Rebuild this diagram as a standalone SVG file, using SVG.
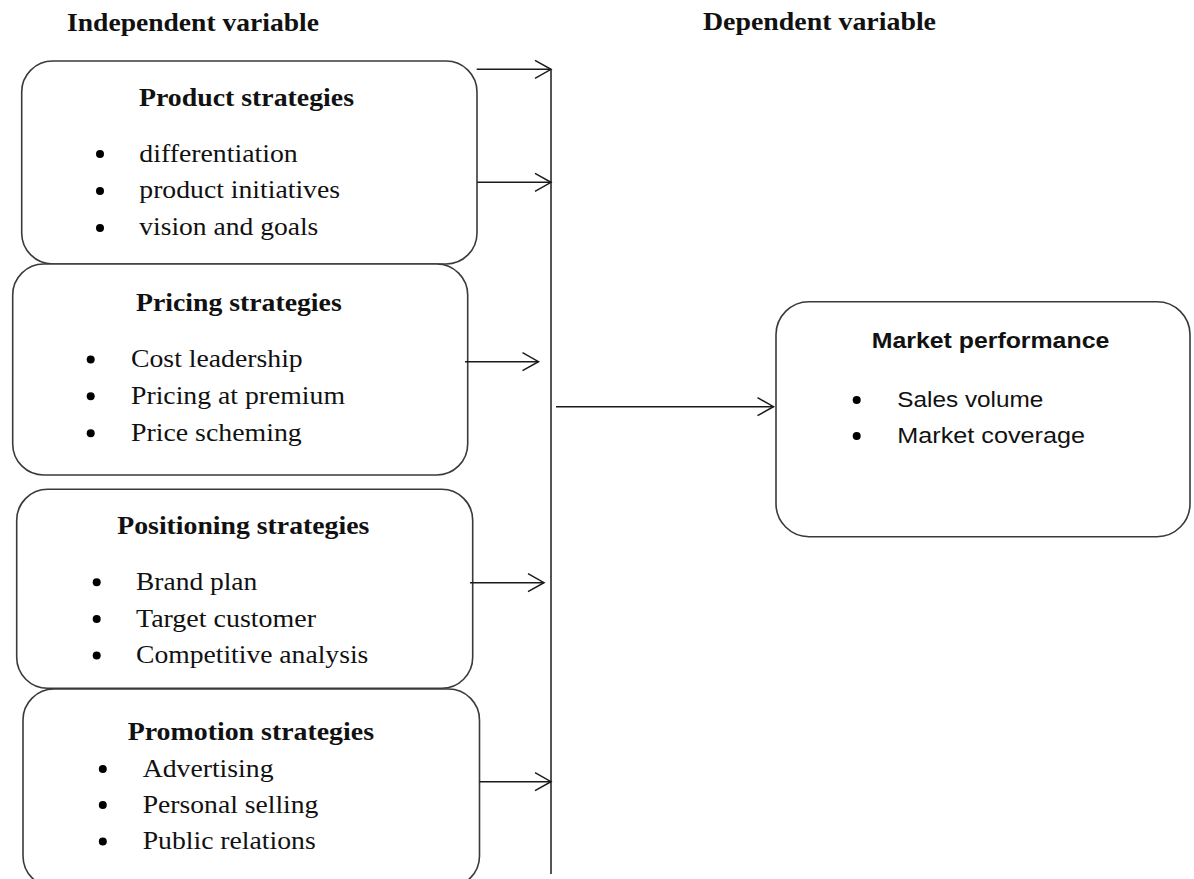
<svg xmlns="http://www.w3.org/2000/svg" width="1194" height="879" viewBox="0 0 1194 879">
<style>
.box{fill:#fff;stroke:#3a3a3a;stroke-width:1.6}
.hd{font-family:"Liberation Serif","Times New Roman",serif;font-weight:bold;font-size:25px;fill:#111}
.t{font-family:"Liberation Serif","Times New Roman",serif;font-size:25px;fill:#111}
.sh{font-family:"Liberation Sans",Arial,sans-serif;font-weight:bold;font-size:22px;fill:#111}
.st{font-family:"Liberation Sans",Arial,sans-serif;font-size:22px;fill:#111}
.dot{fill:#000}
.con{stroke:#1a1a1a;stroke-width:1.5;fill:none}
.bus{stroke:#555;stroke-width:2;fill:none}
</style>
<defs>
<marker id="arr" markerUnits="userSpaceOnUse" markerWidth="20" markerHeight="22" refX="17" refY="10" orient="auto" viewBox="0 0 20 22">
<path d="M1 1 L17 10 L1 19" fill="none" stroke="#1a1a1a" stroke-width="1.5"/>
</marker>
</defs>
<rect width="1194" height="879" fill="#fff"/>
<g id="headers">
<text class="hd" x="67" y="31" textLength="252" lengthAdjust="spacingAndGlyphs">Independent variable</text>
<text class="hd" x="703" y="30" textLength="233" lengthAdjust="spacingAndGlyphs">Dependent variable</text>
</g>
<g id="product">
<rect class="box" x="21.7" y="61" width="455.3" height="203" rx="31"/>
<text class="hd" x="139" y="105.5" textLength="215" lengthAdjust="spacingAndGlyphs">Product strategies</text>
<circle class="dot" cx="100" cy="154" r="4"/>
<circle class="dot" cx="100" cy="191" r="4"/>
<circle class="dot" cx="100" cy="228" r="4"/>
<text class="t" x="139.3" y="161.7" textLength="158.4" lengthAdjust="spacingAndGlyphs">differentiation</text>
<text class="t" x="139.3" y="198.3" textLength="200.7" lengthAdjust="spacingAndGlyphs">product initiatives</text>
<text class="t" x="139.3" y="235" textLength="179" lengthAdjust="spacingAndGlyphs">vision and goals</text>
</g>
<g id="pricing">
<rect class="box" x="12.7" y="264" width="455" height="211" rx="31"/>
<text class="hd" x="136" y="310.7" textLength="205.7" lengthAdjust="spacingAndGlyphs">Pricing strategies</text>
<circle class="dot" cx="90.7" cy="359.5" r="4"/>
<circle class="dot" cx="90.7" cy="396.3" r="4"/>
<circle class="dot" cx="90.7" cy="433.3" r="4"/>
<text class="t" x="131" y="367.3" textLength="171.7" lengthAdjust="spacingAndGlyphs">Cost leadership</text>
<text class="t" x="131" y="404" textLength="214" lengthAdjust="spacingAndGlyphs">Pricing at premium</text>
<text class="t" x="131" y="441" textLength="170.7" lengthAdjust="spacingAndGlyphs">Price scheming</text>
</g>
<g id="positioning">
<rect class="box" x="16.7" y="489.3" width="456" height="199" rx="31"/>
<text class="hd" x="117.3" y="534" textLength="252" lengthAdjust="spacingAndGlyphs">Positioning strategies</text>
<circle class="dot" cx="96.7" cy="582.3" r="4"/>
<circle class="dot" cx="96.7" cy="619" r="4"/>
<circle class="dot" cx="96.7" cy="655.6" r="4"/>
<text class="t" x="136" y="590" textLength="121.3" lengthAdjust="spacingAndGlyphs">Brand plan</text>
<text class="t" x="136" y="626.7" textLength="180" lengthAdjust="spacingAndGlyphs">Target customer</text>
<text class="t" x="136" y="663.3" textLength="232.3" lengthAdjust="spacingAndGlyphs">Competitive analysis</text>
</g>
<g id="promotion">
<rect class="box" x="23" y="689" width="456.5" height="198" rx="31"/>
<text class="hd" x="127.7" y="740" textLength="246.3" lengthAdjust="spacingAndGlyphs">Promotion strategies</text>
<circle class="dot" cx="102.8" cy="769" r="4"/>
<circle class="dot" cx="102.8" cy="805" r="4"/>
<circle class="dot" cx="102.8" cy="841.6" r="4"/>
<text class="t" x="142.7" y="776.7" textLength="130.8" lengthAdjust="spacingAndGlyphs">Advertising</text>
<text class="t" x="142.7" y="812.7" textLength="175.7" lengthAdjust="spacingAndGlyphs">Personal selling</text>
<text class="t" x="142.7" y="849.3" textLength="173" lengthAdjust="spacingAndGlyphs">Public relations</text>
</g>
<g id="market">
<rect class="box" x="776" y="301.7" width="414" height="235" rx="33"/>
<text class="sh" x="871.7" y="348.3" textLength="237.6" lengthAdjust="spacingAndGlyphs">Market performance</text>
<circle class="dot" cx="856.7" cy="400" r="4"/>
<circle class="dot" cx="856.7" cy="436" r="4"/>
<text class="st" x="897.3" y="406.7" textLength="146" lengthAdjust="spacingAndGlyphs">Sales volume</text>
<text class="st" x="897.3" y="443" textLength="187.7" lengthAdjust="spacingAndGlyphs">Market coverage</text>
</g>
<g id="connectors">
<path class="bus" d="M551 69.3 V874"/>
<path class="con" d="M476.7 69.3 H551" marker-end="url(#arr)"/>
<path class="con" d="M477.3 182.3 H551" marker-end="url(#arr)"/>
<path class="con" d="M465 361.7 H538.5" marker-end="url(#arr)"/>
<path class="con" d="M470 582.7 H544" marker-end="url(#arr)"/>
<path class="con" d="M479.5 781.7 H551" marker-end="url(#arr)"/>
<path class="con" d="M556 406.7 H773.5" marker-end="url(#arr)"/>
</g>
</svg>
